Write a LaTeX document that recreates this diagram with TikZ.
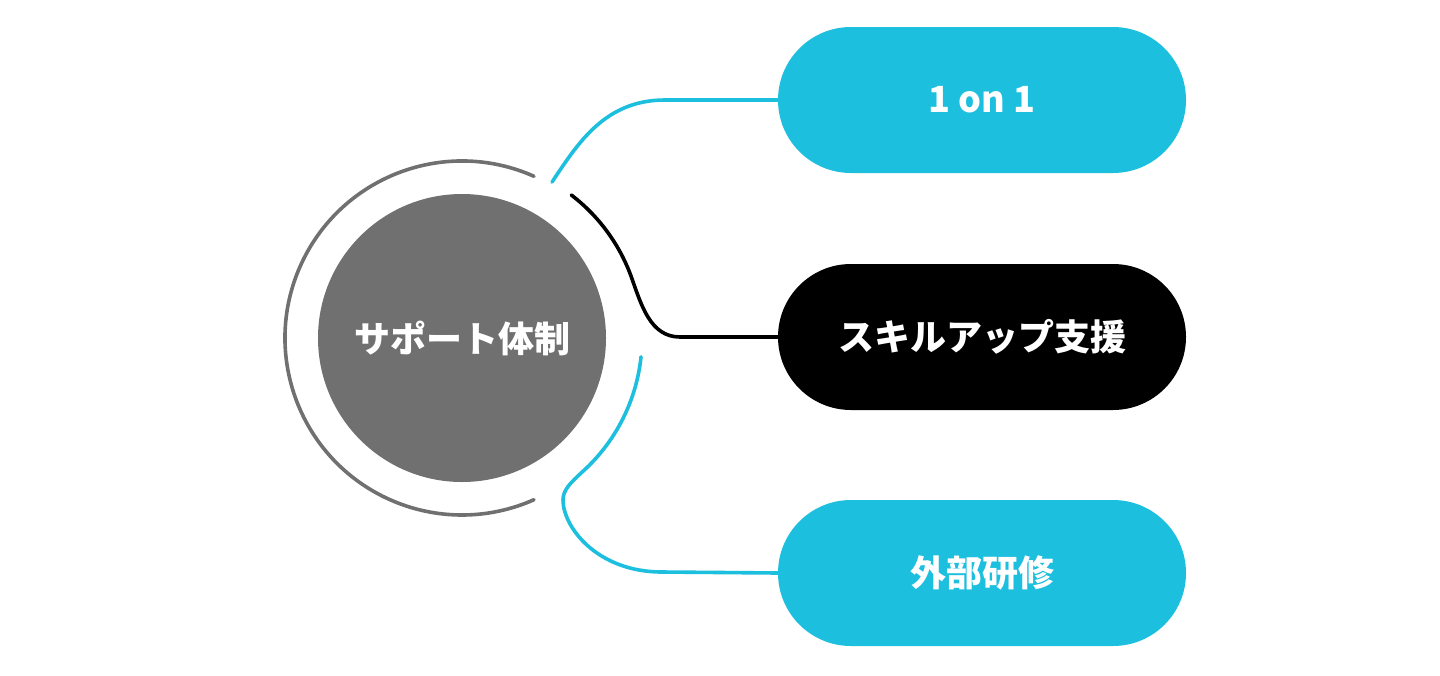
\documentclass[tikz,border=0pt]{standalone}
\usepackage{fontspec}
\newfontfamily\jp{Noto Sans CJK JP}
\usetikzlibrary{calc}
\definecolor{cyanb}{RGB}{29,191,222}
\definecolor{grayc}{RGB}{112,112,112}
\tikzset{
  label font/.style={font=\jp\bfseries\fontsize{36}{40}\selectfont},
  pill/.style={rectangle, rounded corners=73pt, minimum width=408pt, minimum height=146pt, inner sep=0pt, text=white, label font},
  conn/.style={line width=3.6pt, line cap=round},
}
\begin{document}
\begin{tikzpicture}[x=1pt,y=1pt]
\useasboundingbox (0,0) rectangle (1440,-675);
\coordinate (C) at (462,-338);
\node[circle, fill=grayc, minimum size=288pt, inner sep=0pt, text=white, label font] (hub) at (C) {サポート体制};
\draw[conn, grayc] ($(C)+(66:177)$) arc[start angle=66, end angle=294, radius=177];
\node[pill, fill=cyanb] (one) at (982,-100) {1 on 1};
\node[pill, fill=black] (skill) at (982,-337) {スキルアップ支援};
\node[pill, fill=cyanb] (ext) at (982,-573) {外部研修};
\coordinate (s1) at ($(C)+(60:180)$);
\coordinate (s2) at ($(C)+(52.6:180)$);
\coordinate (s3) at ($(C)+(-6:180)$);
\draw[conn, cyanb] (s1) .. controls (578,-143) and (605,-100) .. (665,-100) -- (one.west);
\draw[conn, black] (s2) arc[start angle=52.6, end angle=20, radius=180]
  .. controls +(10,-28) and (650,-337) .. (680,-337) -- (skill.west);
\draw[conn, cyanb] (s3) arc[start angle=-6, end angle=-48, radius=180]
  .. controls +(-12,-11) and (563,-490) .. (563,-500)
  .. controls (563,-527) and (597,-572) .. (662,-572) -- (ext.west);
\end{tikzpicture}
\end{document}
